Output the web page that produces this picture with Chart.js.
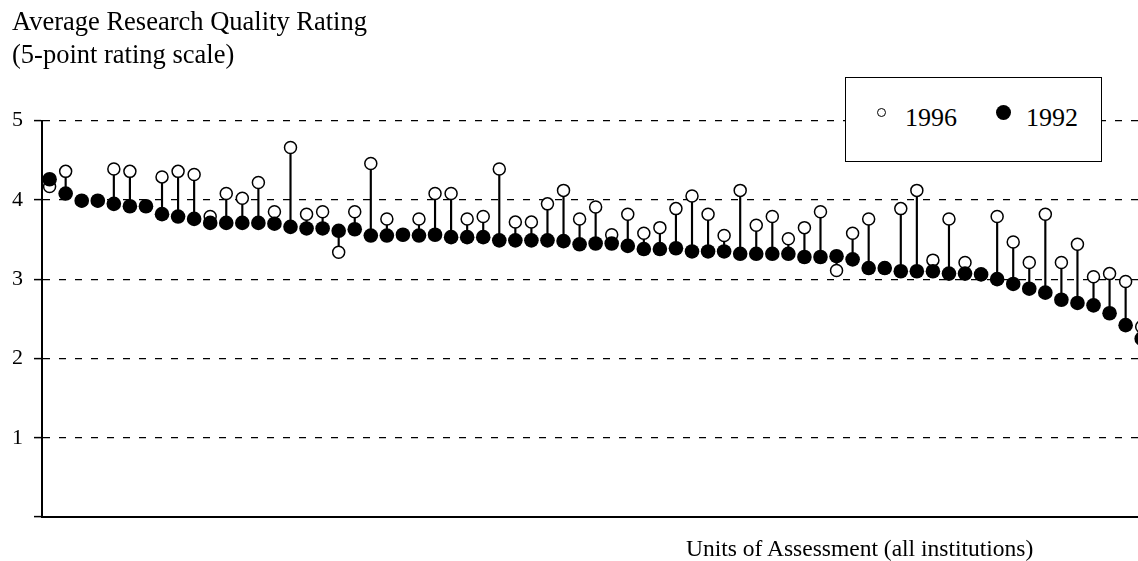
<!DOCTYPE html>
<html>
<head>
<meta charset="utf-8">
<title>Average Research Quality Rating</title>
<script src="https://cdn.jsdelivr.net/npm/chart.js@4.4.1/dist/chart.umd.min.js"></script>
<style>
    body { margin: 0; background: #fff; }
    #wrap { position: relative; width: 1138px; height: 561px; font-family: 'Liberation Serif', 'Times New Roman', serif; color: #000; }
    #legend { position: absolute; left: 845px; top: 77px; width: 257px; height: 85px; border: 1.5px solid #000; background: #fff; box-sizing: border-box; }
    #legend .mark { position: absolute; border-radius: 50%; box-sizing: border-box; }
    #legend .txt { position: absolute; font-size: 26px; line-height: 1; white-space: nowrap; }
    #xTitle { position: absolute; left: 686px; top: 537px; font-size: 23.5px; line-height: 1; white-space: nowrap; }
</style>
</head>
<body>
<div id="wrap">
    <canvas id="chart" width="1138" height="561"></canvas>
    <div id="legend"></div>
    <div id="xTitle"></div>
</div>
<script>
// Titles and ticks
const yTitleLines = ['Average Research Quality Rating', '(5-point rating scale)'];
const xTitleText = 'Units of Assessment (all institutions)';
const yTicks = [1, 2, 3, 4, 5];

// Series names (legend order)
const seriesNames = ['1996', '1992'];

// 1992 ratings, one per unit of assessment, sorted as in the chart
const rating1992 = [
    4.26, 4.08, 3.99, 3.99, 3.95, 3.92, 3.92, 3.82, 3.79, 3.76,
    3.71, 3.71, 3.71, 3.71, 3.70, 3.66, 3.64, 3.64, 3.61, 3.63,
    3.55, 3.55, 3.56, 3.55, 3.56, 3.53, 3.53, 3.53, 3.49, 3.49,
    3.49, 3.49, 3.48, 3.44, 3.45, 3.45, 3.42, 3.38, 3.38, 3.39,
    3.35, 3.35, 3.35, 3.32, 3.32, 3.32, 3.32, 3.28, 3.28, 3.29,
    3.25, 3.14, 3.14, 3.10, 3.10, 3.10, 3.07, 3.07, 3.06, 3.00,
    2.94, 2.88, 2.83, 2.74, 2.70, 2.67, 2.57, 2.42, 2.25
];

// 1996 ratings for the same units
const rating1996 = [
    4.17, 4.36, 3.99, 3.99, 4.39, 4.36, 3.92, 4.29, 4.36, 4.32,
    3.79, 4.08, 4.02, 4.22, 3.85, 4.66, 3.82, 3.85, 3.34, 3.85,
    4.46, 3.76, 3.56, 3.76, 4.08, 4.08, 3.76, 3.79, 4.39, 3.72,
    3.72, 3.95, 4.12, 3.76, 3.91, 3.56, 3.82, 3.58, 3.65, 3.89,
    4.05, 3.82, 3.55, 4.12, 3.68, 3.79, 3.51, 3.65, 3.85, 3.11,
    3.58, 3.76, 3.14, 3.89, 4.12, 3.24, 3.76, 3.21, 3.06, 3.79,
    3.47, 3.21, 3.82, 3.21, 3.44, 3.03, 3.07, 2.97, 2.40
];

const serif = "'Liberation Serif', 'Times New Roman', serif";

// points and stems, x = unit position
const points1992 = rating1992.map((v, i) => ({ x: i, y: v }));
const points1996 = rating1996.map((v, i) => ({ x: i, y: v }));
const stems = rating1992.map((v, i) => ({ x: i, y: [v, rating1996[i]] }));

const ctx = document.getElementById('chart').getContext('2d');
new Chart(ctx, {
    type: 'scatter',
    data: {
        datasets: [
            {
                label: seriesNames[1],
                data: points1992,
                pointRadius: 7.3,
                pointBackgroundColor: '#000',
                pointBorderWidth: 0,
                order: 0,
                clip: false
            },
            {
                label: seriesNames[0],
                data: points1996,
                pointRadius: 6,
                pointBackgroundColor: '#fff',
                pointBorderColor: '#000',
                pointBorderWidth: 1.5,
                order: 1,
                clip: false
            },
            {
                type: 'bar',
                label: 'change',
                data: stems,
                backgroundColor: '#000',
                borderWidth: 0,
                barThickness: 1.5,
                grouped: false,
                order: 2,
                clip: false
            }
        ]
    },
    options: {
        responsive: false,
        devicePixelRatio: 1,
        animation: false,
        events: [],
        layout: {
            autoPadding: false,
            padding: { left: 12, right: 0, top: 0, bottom: 44 }
        },
        plugins: {
            legend: { display: false },
            tooltip: { enabled: false },
            title: {
                display: true,
                text: yTitleLines,
                align: 'start',
                color: '#000',
                font: { family: serif, size: 26.5, weight: 'normal', lineHeight: 1.257 },
                padding: { top: 6, bottom: 48 }
            }
        },
        scales: {
            x: {
                type: 'linear',
                min: -0.473,
                max: 67.77,
                offset: false,
                grid: { display: false, drawTicks: false },
                ticks: { display: false },
                border: { display: true, color: '#000', width: 2 }
            },
            y: {
                type: 'linear',
                min: 0,
                max: 5,
                afterBuildTicks: function(scale) {
                    scale.ticks = [0].concat(yTicks).map(v => ({ value: v }));
                },
                // label (11) + padding (11) + tick (8)
                afterFit: function(scale) {
                    scale.width = 30;
                },
                ticks: {
                    color: '#000',
                    padding: 11,
                    font: { family: serif, size: 22 },
                    callback: function(value) {
                        return yTicks.includes(value) ? String(value) : '';
                    }
                },
                grid: {
                    color: '#000',
                    lineWidth: 1.2,
                    tickLength: 8,
                    tickColor: '#000',
                    tickWidth: 1.5,
                    tickBorderDash: []
                },
                border: { display: true, color: '#000', width: 2, dash: [7, 9] }
            }
        }
    }
});

// legend box (1996 hollow, 1992 filled)
const legend = document.getElementById('legend');
const legendItems = [
    { name: seriesNames[0], markLeft: 28, size: 9, fill: '#fff', border: '1.3px solid #000', textLeft: 59 },
    { name: seriesNames[1], markLeft: 150, size: 15, fill: '#000', border: 'none', textLeft: 180 }
];
legendItems.forEach(item => {
    const mark = document.createElement('span');
    mark.className = 'mark';
    mark.style.left = (item.markLeft + (15 - item.size) / 2) + 'px';
    mark.style.top = (34.8 - item.size / 2) + 'px';
    mark.style.width = item.size + 'px';
    mark.style.height = item.size + 'px';
    mark.style.background = item.fill;
    mark.style.border = item.border;
    legend.appendChild(mark);

    const txt = document.createElement('span');
    txt.className = 'txt';
    txt.style.left = item.textLeft + 'px';
    txt.style.top = '27px';
    txt.textContent = item.name;
    legend.appendChild(txt);
});

document.getElementById('xTitle').textContent = xTitleText;
</script>
</body>
</html>
